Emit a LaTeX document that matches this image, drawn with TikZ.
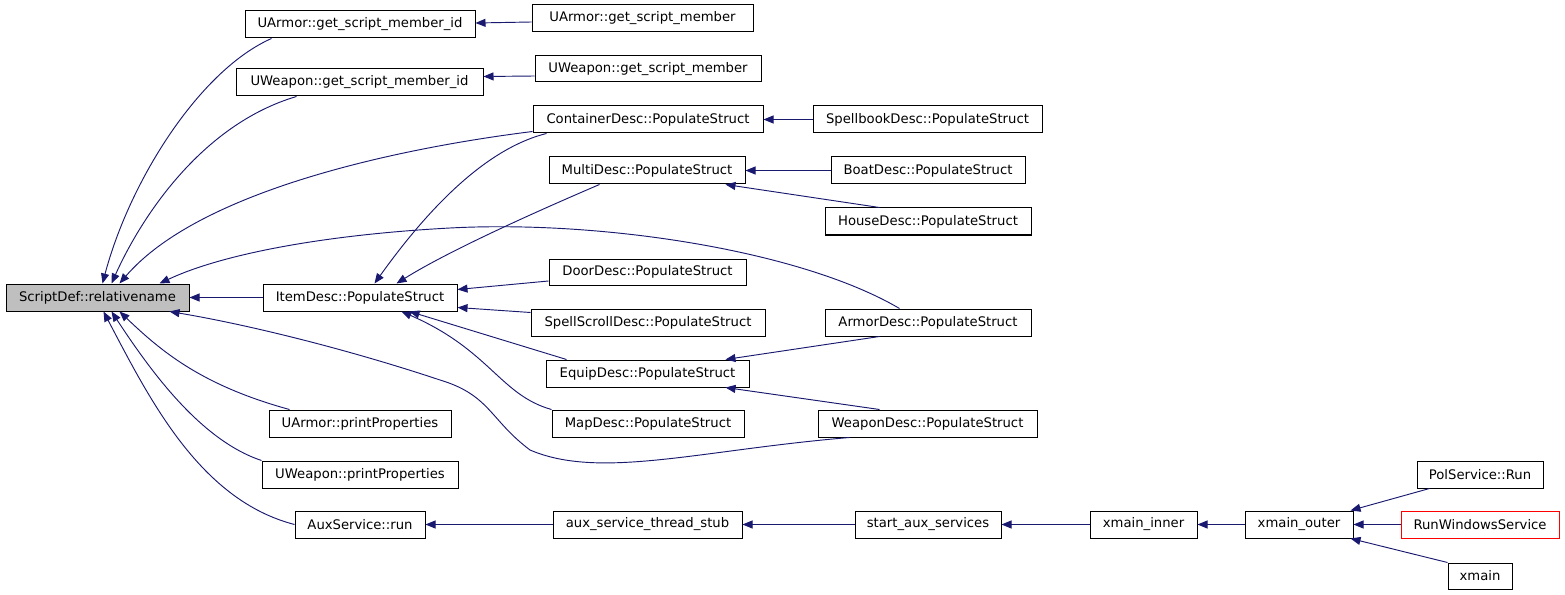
\documentclass[tikz,border=0pt]{standalone}
\usepackage{fontspec}
\setmainfont{DejaVu Sans}
\usetikzlibrary{arrows.meta,calc}
\definecolor{edgecol}{HTML}{191970}
\definecolor{rootfill}{HTML}{BFBFBF}
\tikzset{
  box/.style={draw=black,line width=0.75pt,inner sep=0pt,font=\fontsize{9.9}{11}\selectfont,fill=white},
  root/.style={fill=rootfill},
  redbox/.style={draw=red},
  edge/.style={draw=edgecol,line width=0.7pt,-{Triangle[length=7.5pt,width=6pt]}}
}
\newcommand\bnode[7][]{\node[box,#1,minimum width={(#5-#3)*0.75pt},minimum height={(#6-#4)*0.75pt}] (#2) at ({(#3+#5)/2},{(#4+#6)/2}) {#7};}
\begin{document}
\begin{tikzpicture}[x=0.75pt,y=-0.75pt]
\useasboundingbox[fill=white] (0,0) rectangle (1565,595);
% nodes
\bnode[root]{sd}{6}{284}{189}{311}{ScriptDef::relativename}
\bnode{uagi}{245}{11}{475}{38}{UArmor::get\_script\_member\_id}
\bnode{uag}{532}{5}{753}{32}{UArmor::get\_script\_member}
\bnode{uwgi}{236}{69}{483}{96}{UWeapon::get\_script\_member\_id}
\bnode{uwg}{535}{56}{761}{82}{UWeapon::get\_script\_member}
\bnode{cont}{533}{106}{763}{133}{ContainerDesc::PopulateStruct}
\bnode{spb}{813}{106}{1042}{133}{SpellbookDesc::PopulateStruct}
\bnode{multi}{549}{157}{745}{184}{MultiDesc::PopulateStruct}
\bnode{boat}{831}{157}{1025}{184}{BoatDesc::PopulateStruct}
\bnode{house}{825}{208}{1031}{235}{HouseDesc::PopulateStruct}
\bnode{item}{263}{284}{457}{311}{ItemDesc::PopulateStruct}
\bnode{door}{549}{259}{746}{285}{DoorDesc::PopulateStruct}
\bnode{sscroll}{531}{309}{765}{336}{SpellScrollDesc::PopulateStruct}
\bnode{armor}{825}{309}{1031}{336}{ArmorDesc::PopulateStruct}
\bnode{equip}{546}{360}{749}{387}{EquipDesc::PopulateStruct}
\bnode{map}{552}{410}{744}{437}{MapDesc::PopulateStruct}
\bnode{weapon}{818}{410}{1037}{437}{WeaponDesc::PopulateStruct}
\bnode{uapp}{269}{410}{451}{437}{UArmor::printProperties}
\bnode{uwpp}{262}{461}{458}{488}{UWeapon::printProperties}
\bnode{aux}{295}{511}{425}{538}{AuxService::run}
\bnode{stub}{553}{511}{742}{538}{aux\_service\_thread\_stub}
\bnode{start}{855}{511}{1001}{538}{start\_aux\_services}
\bnode{xin}{1090}{511}{1197}{538}{xmain\_inner}
\bnode{xout}{1245}{511}{1353}{538}{xmain\_outer}
\bnode{pol}{1417}{461}{1543}{488}{PolService::Run}
\bnode[redbox]{rws}{1401}{511}{1559}{538}{RunWindowsService}
\bnode{xm}{1448}{563}{1512}{589}{xmain}
% edges into ScriptDef::relativename
\draw[edge] ($(uagi.south west)+(27,0)$) .. controls (200,70) and (130,180) .. ($(sd.north west)+(97,0)$);
\draw[edge] ($(uwgi.south west)+(61,0)$) .. controls (200,125) and (140,220) .. ($(sd.north west)+(106,0)$);
\draw[edge] ($(cont.south west)+(0,-2)$) .. controls (400,148) and (200,190) .. ($(sd.north west)+(114,0)$);
\draw[edge] ($(armor.north west)+(75,0)$) .. controls (800,250) and (600,220) .. (450,228) .. controls (320,235) and (220,255) .. ($(sd.north west)+(154,0)$);
\draw[edge] (item.west) -- (sd.east);
\draw[edge] ($(weapon.south west)+(32,0)$) .. controls (700,450) and (600,480) .. (530,450) .. controls (490,420) and (490,395) .. (440,380) .. controls (350,350) and (250,325) .. ($(sd.south west)+(164,0)$);
\draw[edge] ($(uapp.north west)+(21,0)$) .. controls (200,385) and (160,350) .. ($(sd.south west)+(114,0)$);
\draw[edge] (uwpp.north west) .. controls (200,440) and (150,370) .. ($(sd.south west)+(106,0)$);
\draw[edge] (aux.west) .. controls (200,500) and (150,400) .. ($(sd.south west)+(98,0)$);
% edges into ItemDesc::PopulateStruct
\draw[edge] ($(cont.south west)+(14,0)$) .. controls (480,150) and (420,220) .. ($(item.north west)+(112,0)$);
\draw[edge] ($(multi.south west)+(51,0)$) .. controls (540,210) and (450,250) .. ($(item.north west)+(134,0)$);
\draw[edge] ($(door.west)+(0,9)$) -- ($(item.east)+(0,-8)$);
\draw[edge] ($(sscroll.west)+(0,-10)$) -- ($(item.east)+(0,10)$);
\draw[edge] ($(equip.north west)+(21,0)$) -- ($(item.south west)+(147,0)$);
\draw[edge] (map.north west) .. controls (500,395) and (490,350) .. ($(item.south west)+(139,0)$);
% other edges
\draw[edge] ($(uag.west)+(0,3.5)$) -- ($(uagi.east)+(0,-1.5)$);
\draw[edge] ($(uwg.west)+(0,7)$) -- ($(uwgi.east)+(0,-6)$);
\draw[edge] (spb.west) -- (cont.east);
\draw[edge] (boat.west) -- (multi.east);
\draw[edge] ($(house.north west)+(55,0)$) -- ($(multi.south east)+(-20,0)$);
\draw[edge] ($(armor.south west)+(55,0)$) -- ($(equip.north east)+(-24,0)$);
\draw[edge] ($(weapon.north west)+(62,0)$) -- ($(equip.south east)+(-24,0)$);
\draw[edge] (stub.west) -- (aux.east);
\draw[edge] (start.west) -- (stub.east);
\draw[edge] (xin.west) -- (start.east);
\draw[edge] (xout.west) -- (xin.east);
\draw[edge] ($(pol.south west)+(13,0)$) -- ($(xout.north east)+(-3,0)$);
\draw[edge] (rws.west) -- (xout.east);
\draw[edge] (xm.north west) -- ($(xout.south east)+(-3,0)$);
\end{tikzpicture}
\end{document}
